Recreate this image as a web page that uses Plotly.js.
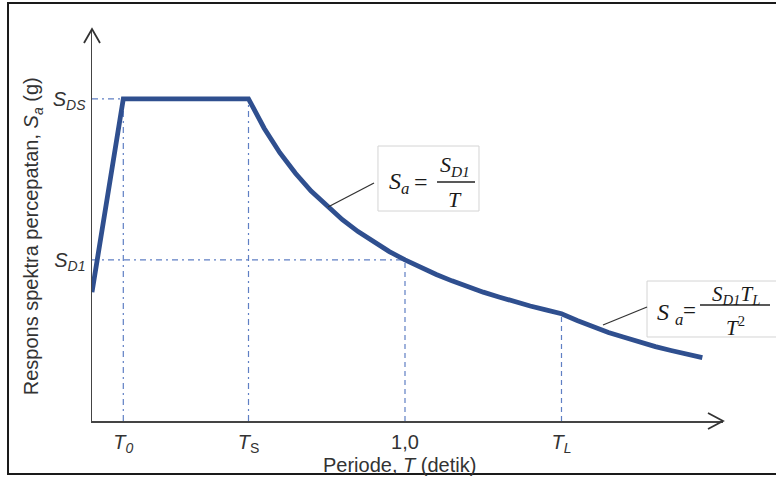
<!DOCTYPE html>
<html>
<head>
<meta charset="utf-8">
<script src="https://cdn.plot.ly/plotly-3.0.1.min.js"></script>
<style>
  html, body { margin: 0; padding: 0; background: #ffffff; }
  #chart { width: 776px; height: 477px; }
</style>
</head>
<body>
<div id="chart"></div>
<script>
// Period T (s) and spectral acceleration Sa (relative to SDS)
const periods = [0, 0.1, 0.5, 0.55, 0.6, 0.65, 0.7, 0.75, 0.8, 0.85, 0.9, 0.95, 1.0,
  1.05, 1.1, 1.15, 1.2, 1.25, 1.3, 1.35, 1.4, 1.45, 1.5,
  1.55, 1.6, 1.65, 1.7, 1.75, 1.8, 1.85, 1.9, 1.95];
const accel = [0.40, 1.00, 1.00, 0.909, 0.833, 0.769, 0.714, 0.667, 0.625, 0.588, 0.556, 0.526, 0.500,
  0.476, 0.455, 0.435, 0.417, 0.400, 0.385, 0.370, 0.357, 0.345, 0.333,
  0.312, 0.293, 0.275, 0.260, 0.245, 0.231, 0.219, 0.208, 0.197];

// Characteristic periods and levels
const T0 = 0.1, TS = 0.5, T1 = 1.0, TL = 1.5;
const SDS = 1.0, SD1 = 0.5, SaTL = 0.333;
const xTickVals = [T0, TS, T1, TL];
const xTickText = ['<i>T</i><sub><i>0</i></sub>', '<i>T</i><sub>S</sub>', '1,0', '<i>T</i><sub><i>L</i></sub>'];
const yTickVals = [SD1, SDS];
const yTickText = ['<i>S</i><sub><i>D1</i></sub>', '<i>S</i><sub><i>DS</i></sub>'];

const guideColor = '#5f7fc4';
const dashDot = '6px,4px,2px,4px';
const dashed = '5px,4px';
const serif = 'Liberation Serif, Times New Roman, serif';
const sans = 'Liberation Sans, Arial, sans-serif';

const trace = {
  x: periods, y: accel, type: 'scatter', mode: 'lines',
  line: { color: '#2f4f8f', width: 4.8 },
  hoverinfo: 'skip', showlegend: false
};

function guide(x0, y0, x1, y1, dash) {
  return { type: 'line', xref: 'x', yref: 'y', x0: x0, y0: y0, x1: x1, y1: y1,
    line: { color: guideColor, width: 1.2, dash: dash }, layer: 'below' };
}

const shapes = [
  guide(0, SDS, T0, SDS, dashDot),
  guide(T0, 0, T0, SDS, dashDot),
  guide(TS, 0, TS, SDS, dashDot),
  guide(0, SD1, T1, SD1, dashDot),
  guide(T1, 0, T1, SD1, dashed),
  guide(TL, 0, TL, SaTL, dashed),
  // axis arrowheads
  { type: 'path', xref: 'paper', yref: 'paper', xsizemode: 'pixel', ysizemode: 'pixel',
    xanchor: 1, yanchor: 0, path: 'M -15,8 L 0,0 L -15,-8',
    line: { color: '#333333', width: 1.8 } },
  { type: 'path', xref: 'paper', yref: 'paper', xsizemode: 'pixel', ysizemode: 'pixel',
    xanchor: 0, yanchor: 1, path: 'M -8,-14 L 0,0 L 8,-14',
    line: { color: '#333333', width: 1.8 } },
  // formula boxes
  { type: 'rect', xref: 'paper', yref: 'paper', x0: 0.4532, x1: 0.6133, y0: 0.5357, y1: 0.7015,
    line: { color: '#d4d4d4', width: 1 }, fillcolor: '#ffffff' },
  { type: 'rect', xref: 'paper', yref: 'paper', x0: 0.8796, x1: 1.3, y0: 0.2143, y1: 0.3571,
    line: { color: '#d4d4d4', width: 1 }, fillcolor: '#ffffff' },
  // fraction bars
  { type: 'line', xref: 'paper', yref: 'paper', x0: 0.5468, x1: 0.6070, y0: 0.6097, y1: 0.6097,
    line: { color: '#222222', width: 1.3 } },
  { type: 'line', xref: 'paper', yref: 'paper', x0: 0.9635, x1: 1.0745, y0: 0.2959, y1: 0.2959,
    line: { color: '#222222', width: 1.3 } },
  // leader lines
  { type: 'line', xref: 'paper', yref: 'paper', x0: 0.374, y0: 0.546, x1: 0.4469, y1: 0.6071,
    line: { color: '#333333', width: 1.3 } },
  { type: 'line', xref: 'paper', yref: 'paper', x0: 0.8098, y0: 0.2449, x1: 0.8796, y1: 0.2908,
    line: { color: '#333333', width: 1.3 } },
  // outer frame
  { type: 'rect', xref: 'paper', yref: 'paper', x0: -0.1331, x1: 1.4, y0: -0.1352, y1: 1.0663,
    line: { color: '#1a1a1a', width: 2 } }
];

function ftxt(text, x, y, size) {
  return { text: text, xref: 'paper', yref: 'paper', x: x, y: y, showarrow: false,
    xanchor: 'center', yanchor: 'middle', font: { family: serif, size: size, color: '#1a1a1a' } };
}

const annotations = [
  ftxt('<i>S</i><sub><i>a</i></sub>', 0.4865, 0.607, 24),
  ftxt('=', 0.5214, 0.610, 24),
  ftxt('<i>S</i><sub><i>D1</i></sub>', 0.5753, 0.6505, 22),
  ftxt('<i>T</i>', 0.5753, 0.5638, 22),
  ftxt('<i>S</i> <sub><i>a</i></sub>', 0.916, 0.273, 24),
  ftxt('=', 0.9477, 0.283, 23),
  ftxt('<i>S</i><sub><i>D1</i></sub><i>T</i><sub><i>L</i></sub>', 1.0206, 0.3214, 21),
  ftxt('<i>T</i><sup>2</sup>', 1.0206, 0.2398, 21),
  { text: 'Periode, <i>T</i> (detik)', xref: 'paper', yref: 'paper', x: 0.487, y: -0.113,
    showarrow: false, xanchor: 'center', yanchor: 'middle',
    font: { family: sans, size: 20, color: '#333333' } },
  { text: 'Respons spektra percepatan, <i>S</i><sub><i>a</i></sub> (g)', xref: 'paper', yref: 'paper',
    x: -0.093, y: 0.472, textangle: -90, showarrow: false, xanchor: 'center', yanchor: 'middle',
    font: { family: sans, size: 20, color: '#333333' } }
];

const layout = {
  width: 776, height: 477,
  margin: { l: 92, r: 53, t: 29, b: 56 },
  paper_bgcolor: '#ffffff', plot_bgcolor: '#ffffff',
  showlegend: false,
  xaxis: {
    range: [0, 2.016], showgrid: false, zeroline: false,
    showline: true, linecolor: '#444444', linewidth: 1.5,
    ticks: '', tickvals: xTickVals, ticktext: xTickText, ticklabelstandoff: 2,
    tickfont: { family: sans, size: 20, color: '#333333' }, fixedrange: true
  },
  yaxis: {
    range: [0, 1.217], showgrid: false, zeroline: false,
    showline: true, linecolor: '#444444', linewidth: 1.5,
    ticks: '', tickvals: yTickVals, ticktext: yTickText, ticklabelstandoff: 1,
    tickfont: { family: sans, size: 20, color: '#333333' }, fixedrange: true
  },
  shapes: shapes,
  annotations: annotations
};

Plotly.newPlot('chart', [trace], layout, { staticPlot: true, displayModeBar: false });
</script>
</body>
</html>
